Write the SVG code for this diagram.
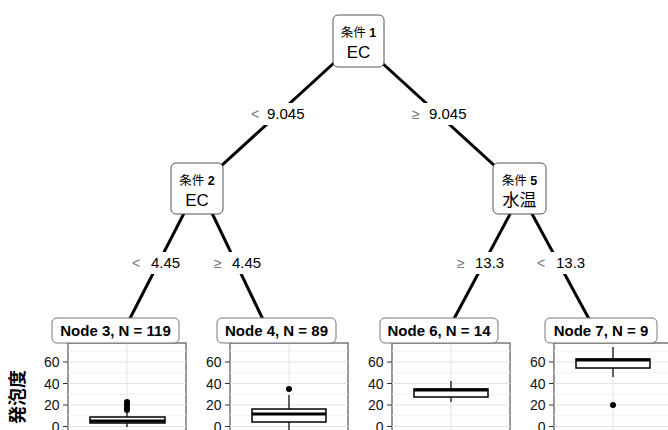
<svg xmlns="http://www.w3.org/2000/svg" width="668" height="430" viewBox="0 0 668 430">
<style>
text{font-family:"Liberation Sans","Noto Sans CJK JP",Arial,sans-serif;fill:#000}
.inner{fill:#fff;stroke:#555;stroke-width:1}
.cond{font-size:12.5px;text-anchor:middle}
.var{font-size:17px;text-anchor:middle}
.edge{stroke:#000;stroke-width:3;fill:none}
.elab{font-size:15px}
.sym{fill:#777;font-size:14px}
.tlab{fill:#fff;stroke:#777;stroke-width:1}
.tt{font-size:15px;font-weight:bold;text-anchor:middle}
.frame{fill:#fff;stroke:#333;stroke-width:1}
.gmaj{stroke:#e3e3e3;stroke-width:1}
.gmin{stroke:#f2f2f2;stroke-width:1}
.tick{stroke:#333;stroke-width:1}
.tl{font-size:14px;text-anchor:end;fill:#111}
.box{fill:#fff;stroke:#000;stroke-width:1.5}
.med{stroke:#000;stroke-width:3}
.wh{stroke:#000;stroke-width:1.2}
</style>
<defs>
<g id="axis">
<line class="gmin" x1="0" y1="351.25" x2="118" y2="351.25"/>
<line class="gmin" x1="0" y1="372.75" x2="118" y2="372.75"/>
<line class="gmin" x1="0" y1="394.25" x2="118" y2="394.25"/>
<line class="gmin" x1="0" y1="415.75" x2="118" y2="415.75"/>
<line class="gmaj" x1="0" y1="362" x2="118" y2="362"/>
<line class="gmaj" x1="0" y1="383.5" x2="118" y2="383.5"/>
<line class="gmaj" x1="0" y1="405" x2="118" y2="405"/>
<line class="gmaj" x1="0" y1="426.5" x2="118" y2="426.5"/>
<line class="gmaj" x1="59" y1="343" x2="59" y2="440"/>
<line class="tick" x1="-5" y1="362" x2="0" y2="362"/>
<line class="tick" x1="-5" y1="383.5" x2="0" y2="383.5"/>
<line class="tick" x1="-5" y1="405" x2="0" y2="405"/>
<line class="tick" x1="-5" y1="426.5" x2="0" y2="426.5"/>
<text class="tl" x="-8.5" y="367">60</text>
<text class="tl" x="-8.5" y="388.5">40</text>
<text class="tl" x="-8.5" y="410">20</text>
<text class="tl" x="-8.5" y="431.5">0</text>
</g>
</defs>
<rect width="668" height="430" fill="#fff"/>

<g id="connectors">
<line class="edge" x1="358" y1="41" x2="197" y2="188"/>
<line class="edge" x1="358" y1="41" x2="519" y2="188"/>
<line class="edge" x1="197" y1="188" x2="124" y2="330"/>
<line class="edge" x1="200" y1="188" x2="268" y2="330"/>
<line class="edge" x1="524" y1="188" x2="448" y2="330"/>
<line class="edge" x1="518" y1="188" x2="595" y2="330"/>
<rect x="246" y="103" width="66" height="22" fill="#fff"/>
<text class="elab" y="119"><tspan class="sym" x="251">&lt;</tspan><tspan x="267">9.045</tspan></text>
<rect x="408" y="103" width="66" height="22" fill="#fff"/>
<text class="elab" y="119"><tspan class="sym" x="412">≥</tspan><tspan x="429">9.045</tspan></text>
<rect x="128" y="252" width="58" height="22" fill="#fff"/>
<text class="elab" y="268"><tspan class="sym" x="132">&lt;</tspan><tspan x="151">4.45</tspan></text>
<rect x="210" y="252" width="56" height="22" fill="#fff"/>
<text class="elab" y="268"><tspan class="sym" x="214">≥</tspan><tspan x="232">4.45</tspan></text>
<rect x="453" y="252" width="56" height="22" fill="#fff"/>
<text class="elab" y="268"><tspan class="sym" x="457">≥</tspan><tspan x="475">13.3</tspan></text>
<rect x="533" y="252" width="56" height="22" fill="#fff"/>
<text class="elab" y="268"><tspan class="sym" x="537">&lt;</tspan><tspan x="556">13.3</tspan></text>
</g>

<g id="node1">
<rect class="inner" x="333" y="15" width="51" height="52" rx="5"/>
<text class="cond" x="358.5" y="37">条件 <tspan font-weight="bold">1</tspan></text>
<text class="var" x="358.5" y="58">EC</text>
</g>
<g id="node2">
<rect class="inner" x="171" y="163" width="52" height="51" rx="5"/>
<text class="cond" x="197" y="185">条件 <tspan font-weight="bold">2</tspan></text>
<text class="var" x="197" y="206">EC</text>
</g>
<g id="node5">
<rect class="inner" x="493" y="163" width="53" height="51" rx="5"/>
<text class="cond" x="519.5" y="185">条件 <tspan font-weight="bold">5</tspan></text>
<text class="var" x="519.5" y="206">水温</text>
</g>

<text x="24" y="397" font-size="18" font-weight="bold" text-anchor="middle" transform="rotate(-90 24 397)">発泡度</text>

<g id="node3">
<rect class="frame" x="68" y="343" width="118" height="100"/>
<g transform="translate(68,0)"><use href="#axis"/></g>
<line class="wh" x1="127" y1="413" x2="127" y2="427"/>
<rect class="box" x="90" y="417" width="75" height="6"/>
<line class="med" x1="90" y1="421" x2="165" y2="421"/>
<circle cx="127" cy="402" r="3"/>
<circle cx="127" cy="405" r="3"/>
<circle cx="127" cy="408" r="3"/>
<circle cx="127" cy="410" r="3"/>
<rect class="tlab" x="52" y="318" width="127" height="25" rx="5"/>
<text class="tt" x="115.5" y="336">Node 3, N = 119</text>
</g>
<g id="node4">
<rect class="frame" x="230" y="343" width="118" height="100"/>
<g transform="translate(230,0)"><use href="#axis"/></g>
<line class="wh" x1="289" y1="395" x2="289" y2="430"/>
<rect class="box" x="252" y="409" width="74" height="13"/>
<line class="med" x1="252" y1="414" x2="326" y2="414"/>
<circle cx="289" cy="389" r="3"/>
<rect class="tlab" x="217" y="318" width="119" height="25" rx="5"/>
<text class="tt" x="276.5" y="336">Node 4, N = 89</text>
</g>
<g id="node6">
<rect class="frame" x="392" y="343" width="118" height="100"/>
<g transform="translate(392,0)"><use href="#axis"/></g>
<line class="wh" x1="451" y1="381" x2="451" y2="402"/>
<rect class="box" x="414" y="389" width="74" height="8"/>
<line class="med" x1="414" y1="390" x2="488" y2="390"/>
<rect class="tlab" x="380" y="318" width="118" height="25" rx="5"/>
<text class="tt" x="439" y="336">Node 6, N = 14</text>
</g>
<g id="node7">
<rect class="frame" x="554" y="343" width="118" height="100"/>
<g transform="translate(554,0)"><use href="#axis"/></g>
<line class="wh" x1="613" y1="347" x2="613" y2="377"/>
<rect class="box" x="576" y="359" width="74" height="9"/>
<line class="med" x1="576" y1="360" x2="650" y2="360"/>
<circle cx="613" cy="405" r="3"/>
<rect class="tlab" x="545" y="318" width="112" height="25" rx="5"/>
<text class="tt" x="601" y="336">Node 7, N = 9</text>
</g>
</svg>
